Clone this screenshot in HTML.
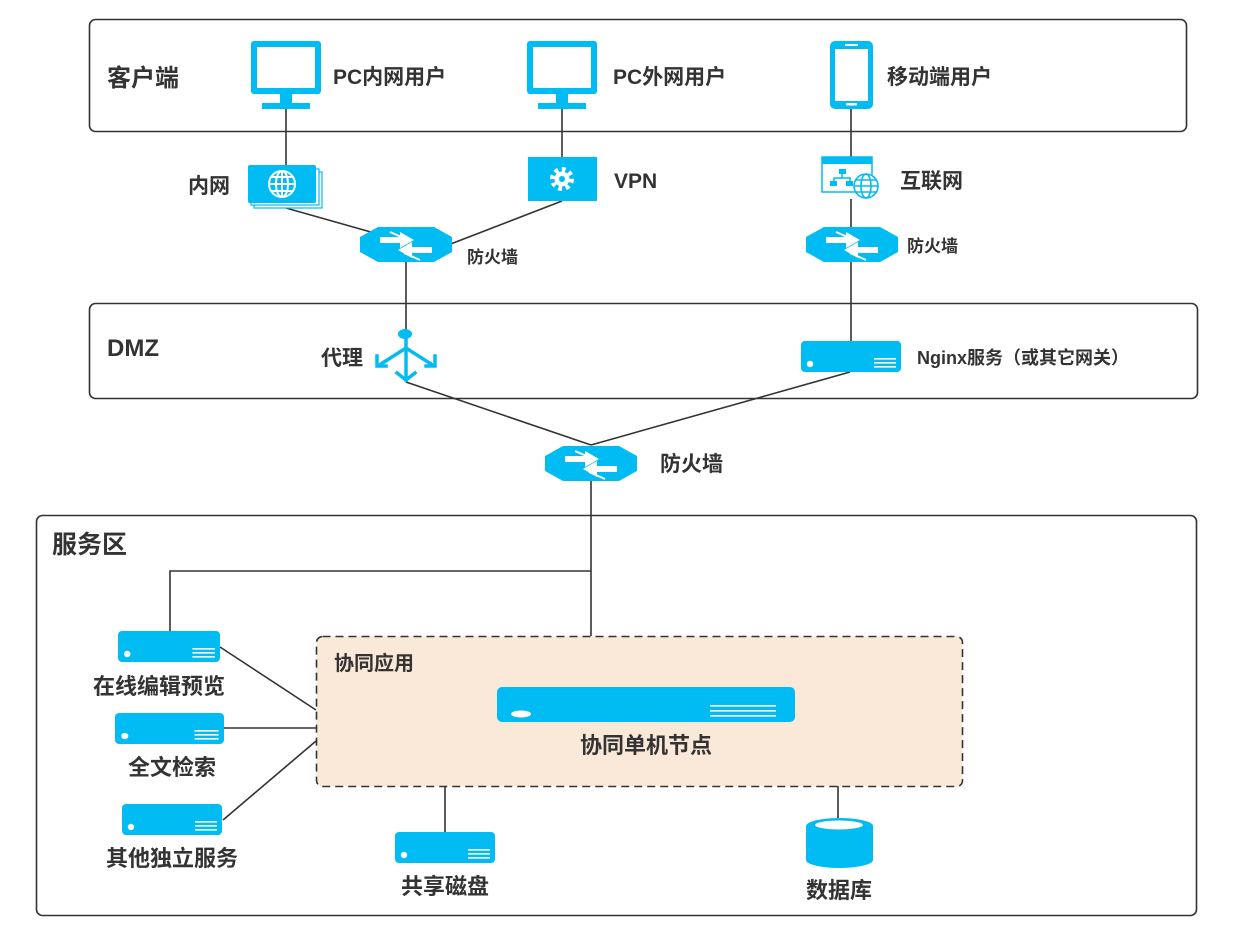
<!DOCTYPE html>
<html><head><meta charset="utf-8"><style>
html,body{margin:0;padding:0;background:#fff;}
svg text{font-family:"Liberation Sans","Noto Sans CJK SC",sans-serif;font-weight:bold;fill:#333;}
</style></head><body>
<svg width="1239" height="937" viewBox="0 0 1239 937" xmlns="http://www.w3.org/2000/svg">
<defs>
<g id="fw">
<polygon points="0,10 18,0 74,0 92,10 92,25 74,35 18,35 0,25" fill="#00bcf2"/>
<polygon points="20,12 40,12 40,7 54,15 40,23 40,18 20,18" fill="#fff" transform="translate(0,-2)"/>
<polygon points="72,16 52,16 52,11 38,19 52,27 52,22 72,22" fill="#fff" transform="translate(0,4)"/>
<line x1="30" y1="5" x2="46" y2="12" stroke="#fff" stroke-width="2"/>
<line x1="44" y1="26" x2="60" y2="33" stroke="#fff" stroke-width="2"/>
</g>
<g id="srv">
<rect x="0" y="0" width="100" height="31" rx="4" fill="#00bcf2"/>
<circle cx="9" cy="23" r="3.2" fill="#fff"/>
<rect x="73" y="17" width="22" height="1.6" fill="#fff"/>
<rect x="73" y="21" width="22" height="1.6" fill="#fff"/>
<rect x="73" y="25" width="22" height="1.6" fill="#fff"/>
</g>
<g id="mon">
<rect x="0" y="0" width="70" height="53" rx="3" fill="#00bcf2"/>
<rect x="6" y="6" width="58" height="41" fill="#fff"/>
<rect x="29" y="53" width="12" height="9" fill="#00bcf2"/>
<rect x="11" y="62" width="48" height="6" fill="#00bcf2"/>
</g>
</defs>

<rect x="89.5" y="19.5" width="1097" height="112" rx="6" fill="none" stroke="#333" stroke-width="1.6"/>
<rect x="89.5" y="303.5" width="1108" height="95" rx="6" fill="none" stroke="#333" stroke-width="1.6"/>
<rect x="36.5" y="515.5" width="1160" height="400" rx="6" fill="none" stroke="#333" stroke-width="1.6"/>
<rect x="316.5" y="636.5" width="646" height="150" rx="6" fill="#fae8d8" stroke="#333" stroke-width="1.6" stroke-dasharray="8,5"/>

<g stroke="#333" stroke-width="1.6" fill="none">
<line x1="286" y1="108" x2="286" y2="167"/>
<line x1="562" y1="108" x2="562" y2="157"/>
<line x1="851" y1="109" x2="851" y2="157"/>
<line x1="286" y1="208" x2="392" y2="238"/>
<line x1="562" y1="201" x2="448" y2="245"/>
<line x1="851" y1="199" x2="851" y2="345"/>
<line x1="406" y1="262" x2="406" y2="333"/>
<line x1="406" y1="382" x2="591" y2="445"/>
<line x1="850" y1="372" x2="591" y2="445"/>
<line x1="591" y1="480" x2="591" y2="636"/>
<polyline points="591,571 170,571 170,632"/>
<line x1="220" y1="647" x2="316" y2="710"/>
<line x1="224" y1="728" x2="316" y2="728"/>
<line x1="223" y1="820" x2="316" y2="741"/>
<line x1="445" y1="786" x2="445" y2="832"/>
<line x1="838" y1="786" x2="838" y2="818"/>
</g>

<use href="#mon" x="251" y="41"/>
<use href="#mon" x="527" y="41"/>
<rect x="830" y="41" width="43" height="68" rx="5" fill="#00bcf2"/>
<rect x="835" y="49" width="33" height="52" fill="#fff"/>
<rect x="845" y="44" width="13" height="2" fill="#fff"/>
<rect x="846" y="103" width="11" height="2.5" rx="1" fill="#fff"/>

<rect x="254" y="172" width="68" height="36" fill="#fff" stroke="#00bcf2" stroke-width="1.2"/>
<rect x="251" y="169" width="68" height="36" fill="#fff" stroke="#00bcf2" stroke-width="1.2"/>
<rect x="248" y="165" width="68" height="38" rx="2" fill="#00bcf2"/>
<g stroke="#fff" stroke-width="2" fill="none">
<circle cx="282" cy="184" r="13"/>
<ellipse cx="282" cy="184" rx="6" ry="13"/>
<line x1="269" y1="184" x2="295" y2="184"/>
<line x1="271" y1="177" x2="293" y2="177"/>
<line x1="271" y1="191" x2="293" y2="191"/>
<line x1="282" y1="171" x2="282" y2="197"/>
</g>
<rect x="528" y="157" width="69" height="44" fill="#00bcf2"/>
<circle cx="562" cy="179" r="9" fill="none" stroke="#fff" stroke-width="6" stroke-dasharray="3.5,3.5"/>
<circle cx="562" cy="179" r="7.5" fill="#fff"/>
<circle cx="562" cy="179" r="3" fill="#00bcf2"/>
<rect x="822" y="157" width="50" height="35" fill="#fff" stroke="#00bcf2" stroke-width="1.5"/>
<rect x="822" y="157" width="50" height="7" fill="#00bcf2"/>
<g fill="#00bcf2">
<rect x="839" y="169" width="7" height="5"/><rect x="830" y="181" width="7" height="5"/><rect x="846" y="181" width="7" height="5"/>
</g>
<g stroke="#00bcf2" stroke-width="1.5" fill="none"><polyline points="842,174 842,178 834,178 834,181"/><polyline points="842,178 850,178 850,181"/></g>
<circle cx="866" cy="186" r="13" fill="#fff"/>
<g stroke="#00bcf2" stroke-width="1.6" fill="none">
<circle cx="866" cy="186" r="12"/><ellipse cx="866" cy="186" rx="5" ry="12"/>
<line x1="854" y1="186" x2="878" y2="186"/><line x1="856" y1="180" x2="876" y2="180"/><line x1="856" y1="192" x2="876" y2="192"/>
</g>

<use href="#fw" x="360" y="227"/>
<use href="#fw" x="806" y="227"/>
<use href="#fw" x="545" y="446"/>

<g stroke="#00bcf2" stroke-width="3.5" fill="none" stroke-linecap="square">
<line x1="406" y1="335" x2="406" y2="380"/>
<line x1="406" y1="348" x2="381" y2="364"/>
<line x1="406" y1="348" x2="431" y2="364"/>
<polyline points="377,356 377,366 386,366"/>
<polyline points="435,356 435,366 426,366"/>
<polyline points="397,373 406,380 415,373"/>
</g>
<ellipse cx="405" cy="334" rx="7" ry="5" fill="#00bcf2"/>

<use href="#srv" x="801" y="341"/>
<use href="#srv" x="118" y="631" transform="translate(118,631) scale(1.02,1) translate(-118,-631)"/>
<use href="#srv" x="115" y="713" transform="translate(115,713) scale(1.09,1) translate(-115,-713)"/>
<use href="#srv" x="122" y="804"/>
<use href="#srv" x="395" y="832"/>
<rect x="497" y="687" width="298" height="35" rx="5" fill="#00bcf2"/>
<ellipse cx="521" cy="714" rx="10" ry="3.5" fill="#fff"/>
<rect x="710" y="705" width="66" height="1.6" fill="#fff"/>
<rect x="710" y="710" width="66" height="1.6" fill="#fff"/>
<rect x="710" y="715" width="66" height="1.6" fill="#fff"/>
<path d="M806,826 a33.5,8 0 0 1 67,0 v34 a33.5,8 0 0 1 -67,0 z" fill="#00bcf2"/>
<ellipse cx="839" cy="825" rx="24" ry="4.5" fill="#fff"/>

<text x="107" y="86" font-size="24">客户端</text>
<text x="107" y="356" font-size="24">DMZ</text>
<text x="52" y="553" font-size="25">服务区</text>
<text x="333" y="84" font-size="21">PC内网用户</text>
<text x="613" y="84" font-size="21">PC外网用户</text>
<text x="887" y="84" font-size="21">移动端用户</text>
<text x="188" y="193" font-size="21">内网</text>
<text x="614" y="188" font-size="21">VPN</text>
<text x="900" y="188" font-size="21">互联网</text>
<text x="467" y="263" font-size="17">防火墙</text>
<text x="907" y="252" font-size="17">防火墙</text>
<text x="321" y="365" font-size="21">代理</text>
<text x="917" y="364" font-size="18">Nginx服务（或其它网关）</text>
<text x="660" y="471" font-size="21">防火墙</text>
<text x="334" y="670" font-size="20">协同应用</text>
<text x="646" y="753" font-size="22" text-anchor="middle">协同单机节点</text>
<text x="159" y="694" font-size="22" text-anchor="middle">在线编辑预览</text>
<text x="172" y="775" font-size="22" text-anchor="middle">全文检索</text>
<text x="172" y="866" font-size="22" text-anchor="middle">其他独立服务</text>
<text x="445" y="894" font-size="22" text-anchor="middle">共享磁盘</text>
<text x="839" y="898" font-size="22" text-anchor="middle">数据库</text>
</svg>
</body></html>
